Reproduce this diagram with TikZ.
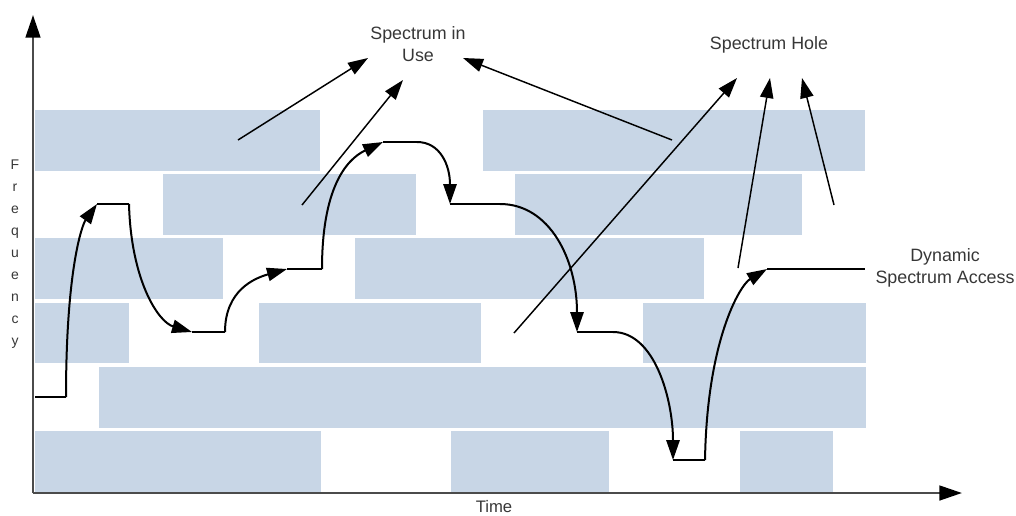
\documentclass[tikz,border=0pt]{standalone}
\usepackage{fontspec}
\setmainfont{Liberation Sans}
\usetikzlibrary{arrows.meta}
\definecolor{bandblue}{RGB}{200,214,230}
\definecolor{labelgray}{RGB}{55,55,55}
\definecolor{axisgray}{RGB}{75,75,75}

\begin{document}
\begin{tikzpicture}[x=0.75pt,y=-0.75pt,
  bandbox/.style={fill=bandblue,draw=none},
  axisline/.style={draw=axisgray,line width=2pt,-{Triangle[length=17pt,width=11pt,color=black]}},
  route/.style={draw=black,line width=1.5pt},
  hop/.style={route,-{Triangle[length=15pt,width=10pt]}},
  pointer/.style={draw=black,line width=1.1pt,-{Triangle[length=15pt,width=10pt]}},
  lbl/.style={text=labelgray,font=\fontsize{13.4}{16.5}\selectfont,align=center,inner sep=0pt},
  freq/.style={text=labelgray,font=\fontsize{10.5}{12}\selectfont,inner sep=0pt,anchor=base},
]
\useasboundingbox (0,0) rectangle (1016,515);

% occupied channel blocks, one row per frequency band
\fill[bandblue] (35,110) rectangle (320,171);
\fill[bandblue] (483,110) rectangle (865,171);
\fill[bandblue] (163,174) rectangle (416,235);
\fill[bandblue] (515,174) rectangle (802,235);
\fill[bandblue] (35,238) rectangle (223,299);
\fill[bandblue] (355,238) rectangle (704,299);
\fill[bandblue] (35,303) rectangle (129,363);
\fill[bandblue] (259,303) rectangle (481,363);
\fill[bandblue] (643,303) rectangle (866,363);
\fill[bandblue] (99,367) rectangle (866,428);
\fill[bandblue] (35,431) rectangle (321,492);
\fill[bandblue] (451,431) rectangle (609,492);
\fill[bandblue] (740,431) rectangle (833,492);

% axes
\coordinate (origin) at (33,493);
\coordinate (ytop) at (33,15);
\coordinate (xend) at (962,493);
\draw[axisline] (origin) -- (ytop);
\draw[axisline] (origin) -- (xend);

% axis labels
\foreach \ch [count=\i from 0] in {F,r,e,q,u,e,n,c,y}
  \node[freq] (fq\i) at (15,{169+22*\i}) {\ch};
\node[lbl,font=\fontsize{12.5}{14}\selectfont] (time) at (494,507) {Time};

% hopping path of the secondary user
\coordinate (s0) at (35,397);
\coordinate (s1) at (66,397);
\coordinate (h1) at (97,204);
\coordinate (h1e) at (129,204);
\coordinate (h2) at (192,332);
\coordinate (h2e) at (225,332);
\coordinate (h3) at (287,269);
\coordinate (h3e) at (322,269);
\coordinate (h4) at (383,142);
\coordinate (h4e) at (417,142);
\coordinate (h5) at (450,204);
\coordinate (h5e) at (500,204);
\coordinate (h6) at (577,332);
\coordinate (h6e) at (613,332);
\coordinate (h7) at (673,460);
\coordinate (h7e) at (705,460);
\coordinate (h8) at (767,269);
\coordinate (h8e) at (865,269);

\draw[route] (s0) -- (s1);
\draw[hop] (s1) .. controls (66,270) and (82,225) .. (h1);
\draw[route] (h1) -- (h1e);
\draw[hop] (h1e) .. controls (131,280) and (158,322) .. (h2);
\draw[route] (h2) -- (h2e);
\draw[hop] (h2e) .. controls (225,290) and (255,278) .. (h3);
\draw[route] (h3) -- (h3e);
\draw[hop] (h3e) .. controls (322,190) and (345,160) .. (h4);
\draw[route] (h4) -- (h4e);
\draw[hop] (h4e) .. controls (440,142) and (450,165) .. (h5);
\draw[route] (h5) -- (h5e);
\draw[hop] (h5e) .. controls (550,204) and (577,260) .. (h6);
\draw[route] (h6) -- (h6e);
\draw[hop] (h6e) .. controls (655,332) and (673,400) .. (h7);
\draw[route] (h7) -- (h7e);
\draw[hop] (h7e) .. controls (707,340) and (740,285) .. (h8);
\draw[route] (h8) -- (h8e);

% labels
\node[lbl] (inuse) at (418,44) {Spectrum in\\Use};
\node[lbl] (hole) at (769,45) {Spectrum Hole};
\node[lbl] (dsa) at (945,268) {Dynamic\\Spectrum Access};

% pointers to "Spectrum in Use"
\coordinate (u1) at (238,140);
\coordinate (u1t) at (368,58);
\coordinate (u2) at (302,205);
\coordinate (u2t) at (403,80);
\coordinate (u3) at (672,140);
\coordinate (u3t) at (463,58);
\draw[pointer] (u1) -- (u1t);
\draw[pointer] (u2) -- (u2t);
\draw[pointer] (u3) -- (u3t);

% pointers to "Spectrum Hole"
\coordinate (k1) at (514,333);
\coordinate (k1t) at (737,78);
\coordinate (k2) at (738,268);
\coordinate (k2t) at (770,78);
\coordinate (k3) at (834,205);
\coordinate (k3t) at (802,78);
\draw[pointer] (k1) -- (k1t);
\draw[pointer] (k2) -- (k2t);
\draw[pointer] (k3) -- (k3t);
\end{tikzpicture}
\end{document}
